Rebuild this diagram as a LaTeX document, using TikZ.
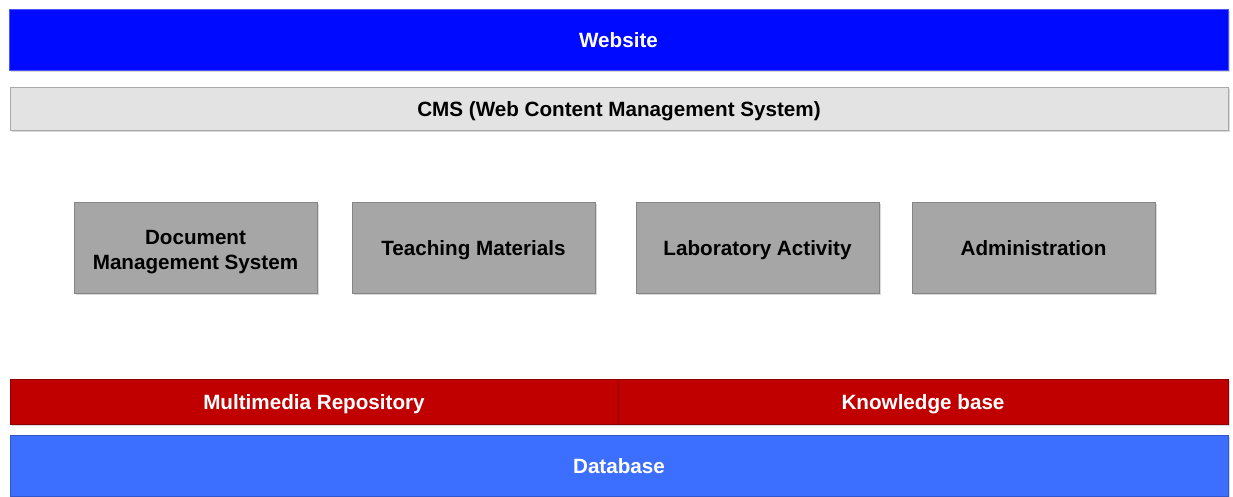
\documentclass[tikz,border=0pt]{standalone}
\usepackage{fontspec}
\setmainfont{Liberation Sans}
\usepackage{tikz}
\usetikzlibrary{positioning,shadows}

\definecolor{webblue}{RGB}{0,10,255}
\definecolor{cmsgrey}{RGB}{227,227,227}
\definecolor{modgrey}{RGB}{166,166,166}
\definecolor{repored}{RGB}{192,0,0}
\definecolor{dbblue}{RGB}{60,110,255}

\begin{document}
\begin{tikzpicture}[
    font = \fontsize{11.75}{14}\selectfont\bfseries, % text style
    layer/.style = {
        rectangle,
        inner sep = 0pt,
        text height = 0.72em+2.3pt, % centre the capitals
        text depth = 0pt,
        minimum width = 24.38cm,
        drop shadow = {shadow xshift=1.2pt, shadow yshift=-1.2pt, opacity=0.3}
    },
    module/.style = {
        rectangle,
        fill = modgrey,
        draw = modgrey!80!black,
        thin,
        align = center,
        inner sep = 0pt,
        text height = 0.72em+2.3pt,
        text depth = 0pt,
        minimum width = 4.86cm,
        minimum height = 1.82cm,
        drop shadow = {shadow xshift=1.2pt, shadow yshift=-1.2pt, opacity=0.3}
    }
    ]

    \useasboundingbox (0,0) rectangle (24.66,-9.92);

    \node[layer, fill=webblue, draw=webblue!70!white, minimum height=1.22cm,
          text=white] (web) at (12.37,-0.79) {Website};
    \node[layer, fill=cmsgrey, draw=cmsgrey!75!black, minimum width=24.36cm,
          minimum height=0.86cm] (cms) at (12.38,-2.17) {CMS (Web Content Management System)};

    \node[module, text height=24.7pt] (dms) at (3.91,-4.95) {Document\\Management System};
    \node[module] (teach) at (9.47,-4.95) {Teaching Materials};
    \node[module] (lab) at (15.15,-4.95) {Laboratory Activity};
    \node[module] (admin) at (20.67,-4.95) {Administration};

    \node[layer, fill=repored, draw=repored!75!black, minimum width=12.16cm,
          minimum height=0.9cm, text=white] (media) at (6.28,-8.03) {Multimedia Repository};
    \node[layer, fill=repored, draw=repored!75!black, minimum width=12.2cm,
          minimum height=0.9cm, text=white] (know) at (18.46,-8.03) {Knowledge base};

    \node[layer, fill=dbblue, draw=dbblue!80!black, minimum width=24.36cm,
          minimum height=1.22cm, text=white] (db) at (12.38,-9.31) {Database};
\end{tikzpicture}
\end{document}
